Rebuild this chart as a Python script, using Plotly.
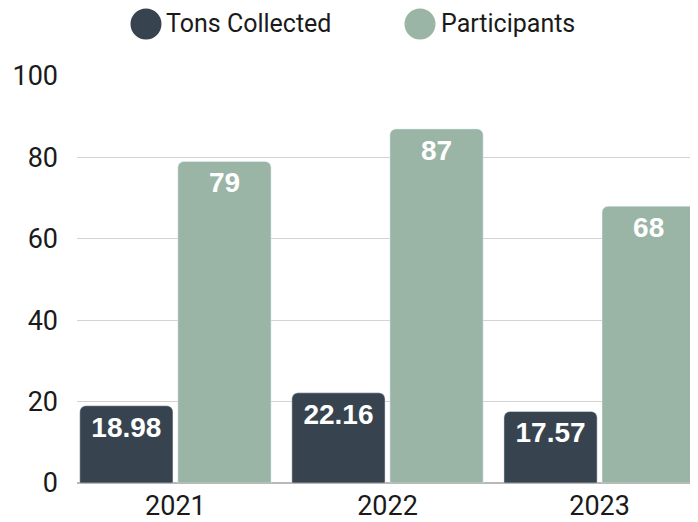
import plotly.graph_objects as go

years = ["2021", "2022", "2023"]
tons = [18.98, 22.16, 17.57]
participants = [79, 87, 68]
tons_labels = ["18.98", "22.16", "17.57"]
part_labels = ["79", "87", "68"]
y_ticks = [0, 20, 40, 60, 80, 100]
series_names = ["Tons Collected", "Participants"]
colors = ["#37444f", "#9ab5a5"]

# page body has an 8px margin, so draw the figure 8px smaller and shift
OFF = 8
W, H = 698 - OFF, 522 - OFF
L, R, T = 77 - OFF, 0, 76 - OFF
B = H - (483 - OFF)
pw = W - L - R
ph = H - T - B

label_font = dict(family="Liberation Sans", size=28, color="white", weight="bold")

fig = go.Figure()
fig.add_trace(go.Bar(
    x=years, y=tons, name=series_names[0], marker_color=colors[0],
    text=tons_labels, textposition="inside", insidetextanchor="end",
    textfont=label_font, textangle=0, showlegend=False, hoverinfo="x+y"))
fig.add_trace(go.Bar(
    x=years, y=participants, name=series_names[1], marker_color=colors[1],
    text=part_labels, textposition="inside", insidetextanchor="end",
    textfont=label_font, textangle=0, showlegend=False, hoverinfo="x+y"))

def px_x(p):
    return (p - OFF - L) / pw
def px_y(p):
    return 1 + (T - (p - OFF)) / ph

legend_items = [(146, 168), (420, 443)]
for (cx, tx), name, col in zip(legend_items, series_names, colors):
    fig.add_shape(type="circle", xref="paper", yref="paper",
                  xsizemode="pixel", ysizemode="pixel",
                  xanchor=px_x(cx), yanchor=px_y(24),
                  x0=-15.5, x1=15.5, y0=-15.5, y1=15.5,
                  fillcolor=col, line=dict(width=0))
    fig.add_annotation(xref="paper", yref="paper", x=px_x(tx - 3), y=px_y(OFF),
                       text=name, showarrow=False, xanchor="left", yanchor="top",
                       borderpad=0,
                       font=dict(family="Roboto", size=25, color="#1a1a1a"))

fig.update_layout(
    width=W, height=H,
    margin=dict(l=L, r=R, t=T, b=B, pad=0),
    paper_bgcolor="white", plot_bgcolor="white",
    barmode="group", bargap=0.075, bargroupgap=0.05,
    barcornerradius=6,
    font=dict(family="Roboto", size=27, color="#1a1a1a"),
    xaxis=dict(range=[-0.464, 2.464], showgrid=False, zeroline=False,
               showline=False, ticks="", automargin=False,
               tickfont=dict(size=27), ticklabelstandoff=4),
    yaxis=dict(range=[0, 100], tickvals=y_ticks, showgrid=True,
               gridcolor="#d3d3d3", gridwidth=1, zeroline=True,
               zerolinecolor="#b8b8b8", zerolinewidth=2,
               showline=False, ticks="", automargin=False,
               tickfont=dict(size=27), ticklabelstandoff=18),
)

fig.write_html("out.html")
